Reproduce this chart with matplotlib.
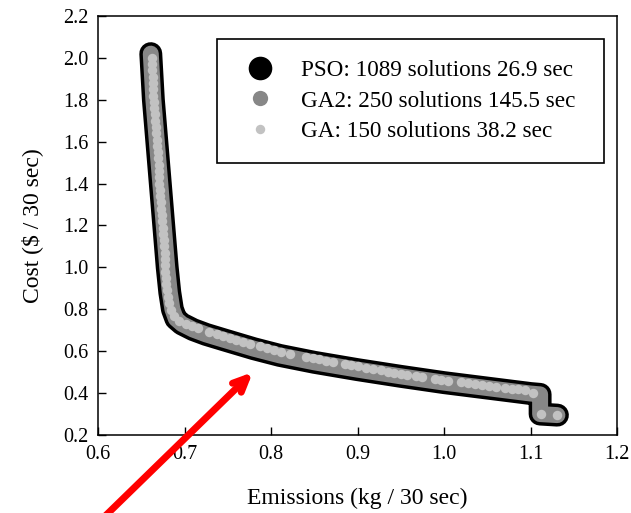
import matplotlib
matplotlib.use("Agg")
import matplotlib.pyplot as plt
from matplotlib.lines import Line2D

plt.rcParams['font.family'] = ['Liberation Serif', 'DejaVu Serif']
plt.rcParams['mathtext.fontset'] = 'stix'

# ---- data ----
# Pareto front traced by PSO and GA2 (dense sets -> continuous bands)
front_x = [0.661, 0.664, 0.668, 0.672, 0.676, 0.680, 0.683, 0.686, 0.690, 0.697,
           0.710, 0.725, 0.745, 0.780, 0.810, 0.850, 0.900, 0.950, 1.000, 1.050,
           1.100, 1.111, 1.111, 1.131]
front_y = [2.020, 1.800, 1.600, 1.400, 1.200, 1.000, 0.880, 0.800, 0.755, 0.730,
           0.703, 0.680, 0.655, 0.612, 0.580, 0.547, 0.512, 0.480, 0.450, 0.424,
           0.398, 0.394, 0.300, 0.295]

# GA solutions (light dots)
ga_x = [0.662, 0.662, 0.662, 0.663, 0.663, 0.664, 0.664, 0.665, 0.665, 0.666,
        0.666, 0.667, 0.667, 0.668, 0.668, 0.669, 0.669, 0.670, 0.670, 0.671,
        0.671, 0.672, 0.672, 0.673, 0.673, 0.674, 0.674, 0.675, 0.675, 0.676,
        0.676, 0.677, 0.677, 0.678, 0.678, 0.679, 0.679, 0.680, 0.681, 0.682,
        0.684, 0.688, 0.694, 0.702, 0.709, 0.716, 0.728, 0.737, 0.744, 0.752,
        0.760, 0.768, 0.776, 0.787, 0.795, 0.803, 0.812, 0.822, 0.840, 0.848,
        0.856, 0.863, 0.872, 0.885, 0.893, 0.900, 0.910, 0.918, 0.927, 0.935,
        0.942, 0.950, 0.957, 0.968, 0.975, 0.990, 0.997, 1.004, 1.020, 1.028,
        1.036, 1.044, 1.052, 1.060, 1.070, 1.078, 1.086, 1.094, 1.103, 1.112,
        1.131]
ga_y = [2.000, 1.970, 1.940, 1.910, 1.880, 1.850, 1.820, 1.790, 1.760, 1.730,
        1.700, 1.670, 1.640, 1.610, 1.580, 1.550, 1.520, 1.490, 1.460, 1.430,
        1.400, 1.370, 1.340, 1.310, 1.280, 1.250, 1.220, 1.190, 1.160, 1.130,
        1.100, 1.070, 1.040, 1.010, 0.980, 0.950, 0.920, 0.890, 0.860, 0.828,
        0.795, 0.766, 0.745, 0.730, 0.720, 0.710, 0.694, 0.682, 0.673, 0.664,
        0.654, 0.645, 0.635, 0.623, 0.614, 0.606, 0.598, 0.589, 0.574, 0.567,
        0.561, 0.555, 0.548, 0.538, 0.532, 0.527, 0.520, 0.514, 0.508, 0.502,
        0.498, 0.492, 0.488, 0.481, 0.477, 0.468, 0.464, 0.460, 0.451, 0.447,
        0.443, 0.439, 0.435, 0.431, 0.426, 0.422, 0.418, 0.414, 0.402, 0.302,
        0.295]

labels = ["PSO: 1089 solutions 26.9 sec",
          "GA2: 250 solutions 145.5 sec",
          "GA: 150 solutions 38.2 sec"]

x_ticks = [0.6, 0.7, 0.8, 0.9, 1.0, 1.1, 1.2]
y_ticks = [0.2, 0.4, 0.6, 0.8, 1.0, 1.2, 1.4, 1.6, 1.8, 2.0, 2.2]

# ---- figure ----
fig = plt.figure(figsize=(6.31, 5.13), dpi=100)
ax = fig.add_axes([0.1553, 0.152, 0.8227, 0.817])

ax.plot(front_x, front_y, color='black', lw=16.5, solid_capstyle='round',
        solid_joinstyle='round', zorder=2)
ax.plot(front_x, front_y, color='#878787', lw=11.5, solid_capstyle='round',
        solid_joinstyle='round', zorder=3)
ax.plot(ga_x, ga_y, ls='none', marker='o', ms=6.8, mfc='#c2c2c2', mec='none',
        zorder=4)

ax.set_xlim(0.6, 1.2)
ax.set_ylim(0.2, 2.2)
ax.set_xticks(x_ticks)
ax.set_yticks(y_ticks)
ax.set_xticklabels([f"{v:.1f}" for v in x_ticks])
ax.set_yticklabels([f"{v:.1f}" for v in y_ticks])
ax.tick_params(direction='in', length=6, width=1, labelsize=14.5, pad=7)
for s in ax.spines.values():
    s.set_linewidth(1.1)

ax.set_xlabel("Emissions (kg / 30 sec)", fontsize=17, labelpad=17)
ax.set_ylabel(r"Cost (\$ / 30 sec)", fontsize=17, labelpad=14)

handles = [Line2D([], [], ls='none', marker='o', ms=17, mfc='black', mec='none'),
           Line2D([], [], ls='none', marker='o', ms=11, mfc='#878787', mec='none'),
           Line2D([], [], ls='none', marker='o', ms=6.8, mfc='#c2c2c2', mec='none')]
leg = ax.legend(handles, labels, loc='upper left',
                bbox_to_anchor=(0.2293, 0.0, 0.7457, 0.945), mode='expand',
                borderaxespad=0, fontsize=16.7, frameon=True, fancybox=False,
                edgecolor='black', framealpha=1, borderpad=0.9, labelspacing=0.4,
                handlelength=1.9, handletextpad=0.8)
leg.get_frame().set_linewidth(1.2)

ax.annotate("", xy=(0.779, 0.50), xycoords='data',
            xytext=(98, -10), textcoords='figure pixels',
            arrowprops=dict(arrowstyle='->,head_length=1.0,head_width=0.45',
                            lw=5, color='red', shrinkA=0, shrinkB=0),
            annotation_clip=False, zorder=6)

fig.savefig("out.png", dpi=100)
